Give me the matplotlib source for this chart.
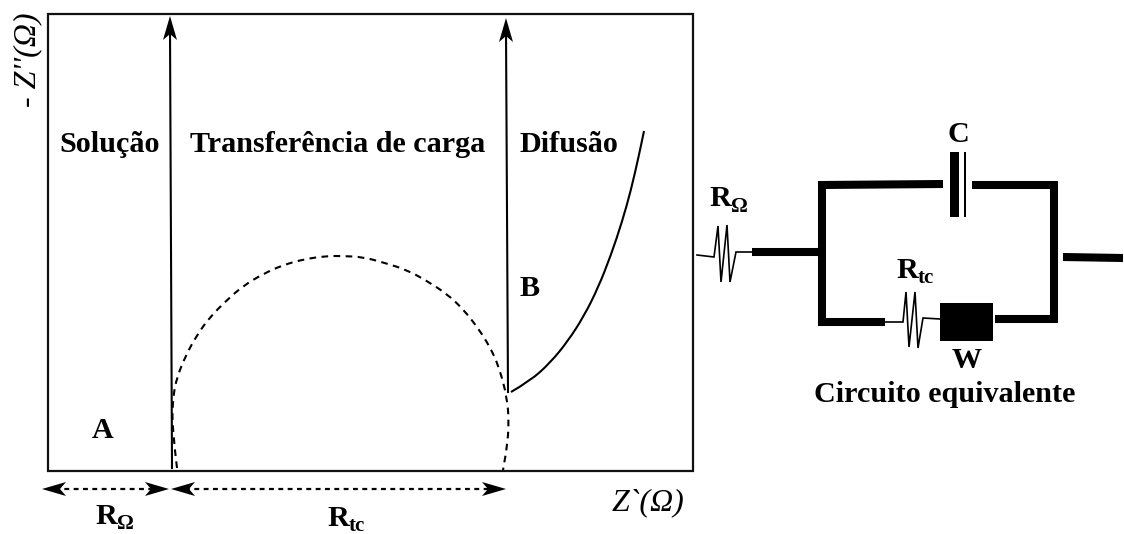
import matplotlib
matplotlib.use("Agg")
import matplotlib.pyplot as plt
from matplotlib.path import Path
from matplotlib.patches import PathPatch, Polygon, Rectangle

plt.rcParams['font.family'] = ['Liberation Serif', 'DejaVu Serif']

# curves (pixel coordinates of the reference)
arc_x = [177, 172, 173, 177, 186, 197, 210, 227, 243, 263, 283, 305, 327, 342, 363,
         385, 407, 427, 447, 463, 478, 490, 499, 507, 509, 507, 503]
arc_y = [468, 427, 397, 377, 355, 335, 317, 300, 286, 274, 265, 259, 256, 256, 257,
         263, 270, 281, 294, 309, 328, 347, 367, 397, 423, 447, 470]
diff_x = [511, 530, 550, 568, 584, 598, 611, 622, 631, 639, 644]
diff_y = [392, 381, 363, 341, 316, 288, 255, 222, 190, 155, 131]

# circuit
wire_top_left = [(943, 184), (822, 185), (822, 322), (885, 322)]
wire_top_right = [(972, 185), (1054, 185), (1054, 319), (995, 319)]
wire_in = [(752, 252), (820, 252)]
wire_out = [(1063, 257), (1123, 258)]
res_omega = [(697, 255), (714, 257), (718, 226), (721, 282), (727, 225), (730, 282), (736, 252), (752, 252)]
res_tc = [(885, 322), (903, 322), (906, 292), (909, 347), (915, 292), (918, 348), (923, 318), (940, 319)]

region_labels = ["Solução", "Transferência de carga", "Difusão"]
SERIF_BOLD = dict(fontweight="bold", fontsize=21.7, color="black", va="center")


def smooth(ax, xs, ys, **kw):
    # quadratic beziers through the midpoints of the read points
    pts = list(zip(xs, ys))
    verts = [pts[0]]
    codes = [Path.MOVETO]
    for i in range(1, len(pts) - 1):
        verts += [pts[i], ((pts[i][0] + pts[i + 1][0]) / 2, (pts[i][1] + pts[i + 1][1]) / 2)]
        codes += [Path.CURVE3, Path.CURVE3]
    verts.append(pts[-1])
    codes.append(Path.LINETO)
    ax.add_patch(PathPatch(Path(verts, codes), fill=False, edgecolor="black", **kw))


def head(ax, tip, dx, dy, length=24, half=7, notch=6):
    # arrow head with a small notch, (dx, dy) is the pointing direction
    tx, ty = tip
    px, py = -dy, dx
    pts = [(tx, ty),
           (tx - dx * length + px * half, ty - dy * length + py * half),
           (tx - dx * (length - notch), ty - dy * (length - notch)),
           (tx - dx * length - px * half, ty - dy * length - py * half)]
    ax.add_patch(Polygon(pts, closed=True, facecolor="black", edgecolor="none", zorder=3))


def sub_label(ax, x, y, main, sub):
    t = ax.text(x, y, main, ha="left", **SERIF_BOLD)
    fig.canvas.draw()
    w = t.get_window_extent().width
    ax.text(x + w, y + 8, sub, ha="left", va="center", fontweight="bold", fontsize=15)


fig = plt.figure(figsize=(11.24, 5.34), dpi=100)
ax = fig.add_axes([0, 0, 1, 1])
ax.set_xlim(0, 1124)
ax.set_ylim(534, 0)
ax.axis("off")

# frame
ax.add_patch(Rectangle((48, 14), 645, 457, fill=False, edgecolor="#111111", linewidth=1.6))

# vertical arrows
ax.plot([172, 170], [468, 30], color="black", lw=1.5)
head(ax, (170, 16), 0, -1)
ax.plot([508, 506], [392, 30], color="black", lw=1.5)
head(ax, (506, 18), 0, -1)

# curves
smooth(ax, arc_x, arc_y, linewidth=1.5, linestyle=(0, (3.2, 2.6)))
smooth(ax, diff_x, diff_y, linewidth=1.5)

# dimension arrows
ax.plot([55, 155], [489, 489], color="black", lw=1.6, ls=(0, (2.2, 2.0)))
head(ax, (42, 489), -1, 0)
head(ax, (169, 489), 1, 0)
ax.plot([185, 495], [489, 489], color="black", lw=1.6, ls=(0, (2.2, 2.0)))
head(ax, (171, 489), -1, 0)
head(ax, (506, 489), 1, 0)

# region texts
ax.text(59, 145, region_labels[0], ha="left", **SERIF_BOLD)
ax.text(190, 145, region_labels[1], ha="left", **SERIF_BOLD)
ax.text(520, 145, region_labels[2], ha="left", **SERIF_BOLD)
ax.text(103, 431, "A", ha="center", **SERIF_BOLD)
ax.text(530, 289, "B", ha="center", **SERIF_BOLD)
sub_label(ax, 95, 516, "R", "Ω")
sub_label(ax, 327, 518, "R", "tc")

# axis names
ax.text(28, 60, "- Z''(Ω)", rotation=90, ha="center", va="center", style="italic", fontsize=23)
ax.text(648, 503, "Z`(Ω)", ha="center", va="center", style="italic", fontsize=23)

# circuit wires
for wire, lw in [(wire_top_left, 5.8), (wire_top_right, 5.8), (wire_in, 5.8), (wire_out, 5.8)]:
    xs, ys = zip(*wire)
    ax.plot(xs, ys, color="black", lw=lw, solid_joinstyle="miter", solid_capstyle="butt")
for res in (res_omega, res_tc):
    xs, ys = zip(*res)
    ax.plot(xs, ys, color="black", lw=1.2, solid_joinstyle="miter")

# capacitor and Warburg box
ax.add_patch(Rectangle((950, 152), 9, 65, facecolor="black", edgecolor="none"))
ax.add_patch(Rectangle((964, 152), 2, 65, facecolor="black", edgecolor="none"))
ax.add_patch(Rectangle((940, 303), 53, 38, facecolor="black", edgecolor="none"))

ax.text(958, 135, "C", ha="center", **SERIF_BOLD)
ax.text(967, 361, "W", ha="center", **SERIF_BOLD)
ax.text(945, 395, "Circuito equivalente", ha="center", **SERIF_BOLD)
sub_label(ax, 709, 199, "R", "Ω")
sub_label(ax, 896, 270, "R", "tc")

fig.savefig("out.png", dpi=100)
